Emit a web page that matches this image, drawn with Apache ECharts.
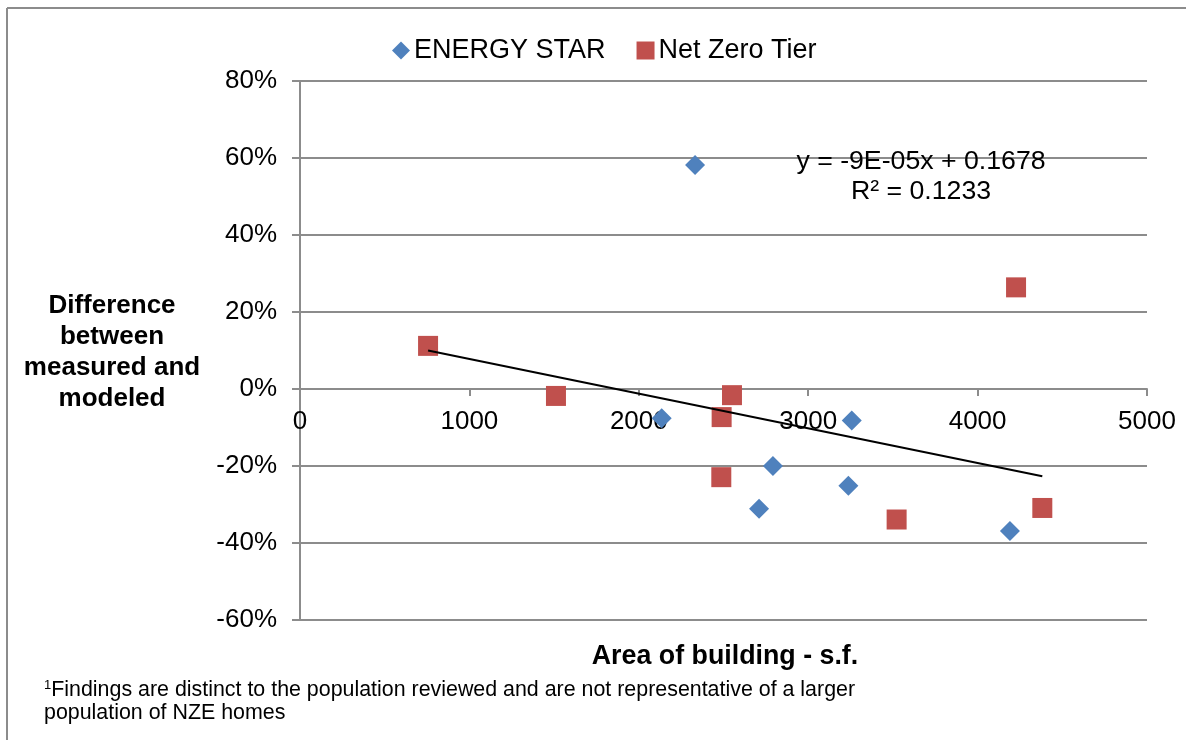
<!DOCTYPE html>
<html>
<head>
<meta charset="utf-8">
<script src="https://cdn.jsdelivr.net/npm/echarts@6/dist/echarts.min.js"></script>
<style>
html,body{margin:0;padding:0;background:#fff;}
#c{width:1186px;height:740px;}
</style>
</head>
<body>
<div id="c"></div>
<script>
// Data (x = area in s.f., y = difference in %)
const energyStarX = [2332, 2135, 3257, 2792, 2710, 3237, 4191];
const energyStarY = [58.2, -7.6, -8.2, -20.0, -31.1, -25.1, -36.9];
const netZeroX = [756, 1511, 2489, 2550, 2487, 4227, 3522, 4382];
const netZeroY = [11.2, -1.8, -7.3, -1.6, -22.9, 26.4, -33.9, -30.9];
const trendSlope = -9e-05;
const trendIntercept = 0.1678;
const trendLabel = ['y = -9E-05x + 0.1678', 'R² = 0.1233'];
const xTicks = [0, 1000, 2000, 3000, 4000, 5000];
const yTicks = [-60, -40, -20, 0, 20, 40, 60, 80];
const seriesNames = ['ENERGY STAR', 'Net Zero Tier'];

const FONT = '"Liberation Sans", Arial, sans-serif';
const FS = 26;
const zip = (xs, ys) => xs.map((x, i) => [x, ys[i]]);
const tMin = Math.min(...netZeroX), tMax = Math.max(...netZeroX);
const trendData = [tMin, tMax].map(x => [x, (trendIntercept + trendSlope * x) * 100]);

const chart = echarts.init(document.getElementById('c'), null, {renderer: 'canvas'});
const baseGraphic = [
  {type: 'line', shape: {x1: 7, y1: 8, x2: 1186, y2: 8}, style: {stroke: '#8c8c8c', lineWidth: 2}},
  {type: 'line', shape: {x1: 7, y1: 8, x2: 7, y2: 740}, style: {stroke: '#8c8c8c', lineWidth: 2}},
  {type: 'text', x: 921, y: 162, style: {text: trendLabel[0], font: '26.7px ' + FONT, fill: '#000', textAlign: 'center', textVerticalAlign: 'middle'}, z: 10},
  {type: 'text', x: 921, y: 192, style: {text: trendLabel[1], font: '26.7px ' + FONT, fill: '#000', textAlign: 'center', textVerticalAlign: 'middle'}, z: 10},
  {type: 'text', x: 112, y: 352, style: {text: 'Difference\nbetween\nmeasured and\nmodeled', font: 'bold ' + FS + 'px ' + FONT, fill: '#000', textAlign: 'center', textVerticalAlign: 'middle', lineHeight: 31}},
  {type: 'text', x: 725, y: 657, style: {text: 'Area of building - s.f.', font: 'bold 26.8px ' + FONT, fill: '#000', textAlign: 'center', textVerticalAlign: 'middle'}},
  {type: 'text', x: 44, y: 702, style: {
    text: '{s|1}Findings are distinct to the population reviewed and are not representative of a larger\npopulation of NZE homes',
    font: '21.4px ' + FONT, fill: '#000', textVerticalAlign: 'middle', lineHeight: 23,
    rich: {s: {fontSize: 13, fontFamily: FONT, verticalAlign: 'top', padding: [0, 0, 8, 0]}}
  }}
];
chart.setOption({
  animation: false,
  backgroundColor: '#fff',
  textStyle: {fontFamily: FONT},
  grid: {left: 300, right: 39, top: 81, bottom: 120},
  legend: {
    data: [
      {name: seriesNames[0], icon: 'diamond', itemStyle: {color: '#4F81BD'}},
      {name: seriesNames[1], icon: 'rect', itemStyle: {color: '#C0504D'}}
    ],
    left: 387, top: 32,
    itemWidth: 18, itemHeight: 18, itemGap: 31,
    textStyle: {fontFamily: FONT, fontSize: 27, color: '#000', padding: [0, 0, 0, -1]}
  },
  xAxis: {
    type: 'value', min: xTicks[0], max: xTicks[xTicks.length - 1], interval: 1000,
    axisLine: {onZero: true, lineStyle: {color: '#8c8c8c', width: 2}},
    axisTick: {show: true, length: 7, lineStyle: {color: '#8c8c8c', width: 2}},
    axisLabel: {show: false},
    splitLine: {show: false}
  },
  yAxis: {
    type: 'value', min: yTicks[0], max: yTicks[yTicks.length - 1], interval: 20,
    axisLine: {show: true, lineStyle: {color: '#8c8c8c', width: 2}},
    axisTick: {show: true, length: 8, lineStyle: {color: '#8c8c8c', width: 2}},
    axisLabel: {fontFamily: FONT, fontSize: FS, color: '#000', margin: 23, formatter: v => v + '%'},
    splitLine: {show: true, lineStyle: {color: '#8c8c8c', width: 2}}
  },
  series: [
    {
      name: seriesNames[0], type: 'scatter', symbol: 'diamond', symbolSize: [20, 20],
      itemStyle: {color: '#4F81BD', opacity: 1}, data: zip(energyStarX, energyStarY), z: 3
    },
    {
      name: seriesNames[1], type: 'scatter', symbol: 'rect', symbolSize: [20, 20],
      itemStyle: {color: '#C0504D', opacity: 1}, data: zip(netZeroX, netZeroY), z: 3
    },
    {
      name: 'trend', type: 'line', data: trendData, symbol: 'none',
      lineStyle: {color: '#000', width: 2}, z: 4, silent: true
    }
  ],
  graphic: baseGraphic
});
// X tick labels placed next to the zero line (axis crosses at 0%)
const xLabelGraphics = xTicks.map(v => {
  const p = chart.convertToPixel({gridIndex: 0}, [v, 0]);
  return {type: 'text', x: p[0], y: p[1] + 33, z: 2,
    style: {text: String(v), font: FS + 'px ' + FONT, fill: '#000', textAlign: 'center', textVerticalAlign: 'middle'}};
});
chart.setOption({graphic: baseGraphic.concat(xLabelGraphics)}, {replaceMerge: ['graphic']});
</script>
</body>
</html>
